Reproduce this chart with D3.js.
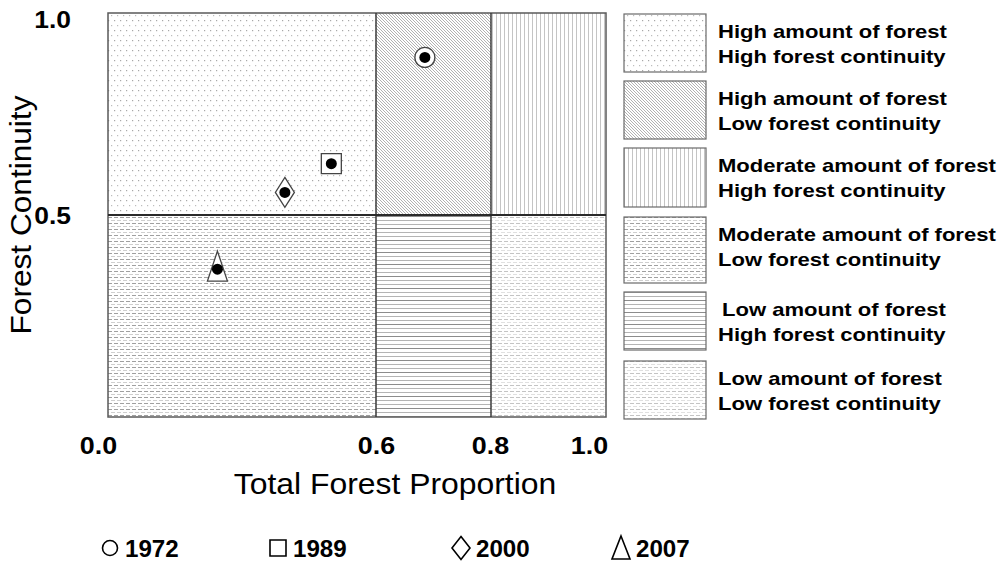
<!DOCTYPE html>
<html>
<head>
<meta charset="utf-8">
<script src="https://cdn.jsdelivr.net/npm/d3@7/dist/d3.min.js"></script>
<style>
  html, body { margin: 0; padding: 0; background: #fff; }
  svg { display: block; font-family: "Liberation Sans", Arial, sans-serif; }
</style>
</head>
<body>
<svg id="chart" width="1004" height="567"></svg>
<script>
// Forest amount / continuity zones and the yearly positions of the landscape
const xBreaks = [0, 0.6, 0.8, 1.0];          // total forest proportion class limits
const yBreaks = [0, 0.5, 1.0];               // forest continuity class limits
const xTickLabels = ["0.0", "0.6", "0.8", "1.0"];
const yTickValues = [1.0, 0.5];
const yTickLabels = ["1.0", "0.5"];

// zones: x class index, y class index (1 = high continuity)
const zoneXIndex = [0, 1, 2, 0, 1, 2];
const zoneYIndex = [1, 1, 1, 0, 0, 0];
const zoneLine1 = ["High amount of forest", "High amount of forest", "Moderate amount of forest",
                   "Moderate amount of forest", "Low amount of forest", "Low amount of forest"];
const zoneLine2 = ["High forest continuity", "Low forest continuity", "High forest continuity",
                   "Low forest continuity", "High forest continuity", "Low forest continuity"];

const years = ["1972", "1989", "2000", "2007"];
const forestProportion = [0.685, 0.50, 0.396, 0.245];
const forestContinuity = [0.89, 0.627, 0.556, 0.366];
const yearSymbols = ["circle", "square", "diamond", "triangle"];

const svg = d3.select("#chart");
const FONT = '"Liberation Sans", Arial, sans-serif';

// plot frame; the x axis is piecewise so each class gets its own width
const x = d3.scaleLinear().domain(xBreaks).range([108, 376, 491, 606]);
const y = d3.scaleLinear().domain([0, 1]).range([417, 13]);

// ---------- fill patterns ----------
const defs = svg.append("defs");
function pat(id, w, h, draw) {
  const p = defs.append("pattern").attr("id", id)
    .attr("patternUnits", "userSpaceOnUse").attr("width", w).attr("height", h);
  p.append("rect").attr("width", w).attr("height", h).attr("fill", "#fff");
  draw(p);
}
// sparse dots
pat("p0", 6, 10, p => {
  p.append("rect").attr("x", 0).attr("y", 0).attr("width", 1.2).attr("height", 1.2).attr("fill", "#a8a8a8");
  p.append("rect").attr("x", 3).attr("y", 5).attr("width", 1.2).attr("height", 1.2).attr("fill", "#bdbdbd");
});
// fine diagonal hatch, built from single pixels
pat("p1", 3, 3, p => {
  [0, 1, 2].forEach(k => p.append("rect").attr("x", k).attr("y", k)
    .attr("width", 1).attr("height", 1).attr("fill", "#b2b2b2"));
});
// vertical lines
pat("p2", 4, 4, p => {
  p.append("rect").attr("x", 0).attr("y", 0).attr("width", 1).attr("height", 4).attr("fill", "#c4c4c4");
});
// dashed horizontal rows
pat("p3", 6, 6, p => {
  p.append("rect").attr("x", 0).attr("y", 1).attr("width", 4).attr("height", 1).attr("fill", "#a0a0a0");
  p.append("rect").attr("x", 3).attr("y", 4).attr("width", 4).attr("height", 1).attr("fill", "#cfcfcf");
  p.append("rect").attr("x", -3).attr("y", 4).attr("width", 4).attr("height", 1).attr("fill", "#cfcfcf");
});
// solid horizontal lines
pat("p4", 6, 12, p => {
  p.append("rect").attr("x", 0).attr("y", 0).attr("width", 6).attr("height", 1).attr("fill", "#8c8c8c");
  p.append("rect").attr("x", 0).attr("y", 4).attr("width", 6).attr("height", 1).attr("fill", "#b4b4b4");
  p.append("rect").attr("x", 0).attr("y", 8).attr("width", 6).attr("height", 1).attr("fill", "#b4b4b4");
});
// light dashed rows
pat("p5", 6, 6, p => {
  p.append("rect").attr("x", 0).attr("y", 1).attr("width", 4).attr("height", 1).attr("fill", "#c4c4c4");
  p.append("rect").attr("x", 3).attr("y", 4).attr("width", 4).attr("height", 1).attr("fill", "#e0e0e0");
  p.append("rect").attr("x", -3).attr("y", 4).attr("width", 4).attr("height", 1).attr("fill", "#e0e0e0");
});

// ---------- zones ----------
svg.append("g").selectAll("rect").data(zoneXIndex).join("rect")
  .attr("x", (d) => x(xBreaks[d]))
  .attr("width", (d) => x(xBreaks[d + 1]) - x(xBreaks[d]))
  .attr("y", (d, i) => y(yBreaks[zoneYIndex[i] + 1]))
  .attr("height", (d, i) => y(yBreaks[zoneYIndex[i]]) - y(yBreaks[zoneYIndex[i] + 1]))
  .attr("fill", (d, i) => `url(#p${i})`);

// frame and class limits
svg.append("rect").attr("x", x(0)).attr("y", y(1)).attr("width", x(1) - x(0)).attr("height", y(0) - y(1))
  .attr("fill", "none").attr("stroke", "#5a5a5a").attr("stroke-width", 1.5);
svg.append("g").selectAll("line").data(xBreaks.slice(1, -1)).join("line")
  .attr("x1", d => x(d)).attr("x2", d => x(d)).attr("y1", y(1)).attr("y2", y(0))
  .attr("stroke", "#3a3a3a").attr("stroke-width", 1.5);
svg.append("line").attr("x1", x(0)).attr("x2", x(1)).attr("y1", y(0.5)).attr("y2", y(0.5))
  .attr("stroke", "#2a2a2a").attr("stroke-width", 1.8);

// ---------- axes ----------
const xAxis = svg.append("g").attr("transform", "translate(0,454)")
  .call(d3.axisBottom(x).tickValues(xBreaks).tickFormat((d, i) => xTickLabels[i]).tickSize(0).tickPadding(0));
xAxis.select(".domain").remove();
const xLabelShift = [-10, 0, -1, -17];
xAxis.selectAll("text")
  .attr("y", 0).attr("dy", 0)
  .attr("fill", "#000").attr("font-family", FONT).attr("font-size", 24).attr("font-weight", "bold")
  .attr("transform", (d, i) => `translate(${xLabelShift[i]},0) scale(1.12,1)`);

const yAxis = svg.append("g").attr("transform", "translate(71,0)")
  .call(d3.axisLeft(y).tickValues(yTickValues).tickFormat((d, i) => yTickLabels[i]).tickSize(0).tickPadding(0));
yAxis.select(".domain").remove();
const yLabelShift = [14, 8];
yAxis.selectAll("text")
  .attr("x", 0).attr("dy", 0)
  .attr("fill", "#000").attr("font-family", FONT).attr("font-size", 24).attr("font-weight", "bold")
  .attr("text-anchor", "end")
  .attr("transform", (d, i) => `translate(0,${yLabelShift[i]}) scale(1.1,1)`);

svg.append("text").attr("transform", "translate(395,494) scale(1.1,1)")
  .attr("text-anchor", "middle").attr("font-size", 29).attr("fill", "#000")
  .text("Total Forest Proportion");
svg.append("text").attr("transform", "translate(31,215) rotate(-90) scale(1.09,1)")
  .attr("text-anchor", "middle").attr("font-size", 29).attr("fill", "#000")
  .text("Forest Continuity");

// ---------- year markers ----------
function symbolPath(type, cx, cy) {
  switch (type) {
    case "square": return `M${cx - 10},${cy - 10}h20v20h-20Z`;
    case "diamond": return `M${cx},${cy - 15}L${cx + 9.5},${cy}L${cx},${cy + 15}L${cx - 9.5},${cy}Z`;
    case "triangle": return `M${cx},${cy - 18}L${cx + 10},${cy + 12}L${cx - 10},${cy + 12}Z`;
    default: return null;
  }
}
const marks = svg.append("g").selectAll("g").data(years).join("g");
marks.each(function (d, i) {
  const g = d3.select(this);
  const cx = x(forestProportion[i]), cy = y(forestContinuity[i]);
  if (yearSymbols[i] === "circle") {
    g.append("circle").attr("cx", cx).attr("cy", cy).attr("r", 10)
      .attr("fill", "#fff").attr("stroke", "#444").attr("stroke-width", 1.3);
  } else {
    g.append("path").attr("d", symbolPath(yearSymbols[i], cx, cy))
      .attr("fill", "#fff").attr("stroke", "#444").attr("stroke-width", 1.3);
  }
  g.append("circle").attr("cx", cx).attr("cy", cy).attr("r", 5.5).attr("fill", "#000");
});

// ---------- zone legend ----------
const legendTop = [14, 81, 148, 217, 292, 361];
const legendHeight = [58, 58, 59, 66, 58, 58];
const lg = svg.append("g");
lg.selectAll("rect").data(zoneLine1).join("rect")
  .attr("x", 624).attr("width", 82)
  .attr("y", (d, i) => legendTop[i]).attr("height", (d, i) => legendHeight[i])
  .attr("fill", (d, i) => `url(#p${i})`).attr("stroke", "#6a6a6a").attr("stroke-width", 1.2);
lg.selectAll("text.l1").data(zoneLine1).join("text").attr("class", "l1")
  .attr("transform", (d, i) => `translate(${i === 4 ? 722 : 718},${legendTop[i] + 24}) scale(1.16,1)`)
  .attr("font-size", 19).attr("font-weight", "bold").attr("fill", "#000").text(d => d);
lg.selectAll("text.l2").data(zoneLine2).join("text").attr("class", "l2")
  .attr("transform", (d, i) => `translate(718,${legendTop[i] + 49}) scale(1.16,1)`)
  .attr("font-size", 19).attr("font-weight", "bold").attr("fill", "#000").text(d => d);

// ---------- year legend ----------
const yearLegendX = [110, 278, 461, 621];
const yl = svg.append("g");
years.forEach((yr, i) => {
  const cx = yearLegendX[i], cy = 548;
  let d;
  if (yearSymbols[i] === "circle") {
    yl.append("circle").attr("cx", cx).attr("cy", cy).attr("r", 7.5)
      .attr("fill", "none").attr("stroke", "#000").attr("stroke-width", 1.6);
  } else {
    if (yearSymbols[i] === "square") d = `M${cx - 8},${cy - 8}h16v16h-16Z`;
    if (yearSymbols[i] === "diamond") d = `M${cx},${cy - 11.5}L${cx + 9},${cy}L${cx},${cy + 11.5}L${cx - 9},${cy}Z`;
    if (yearSymbols[i] === "triangle") d = `M${cx},${cy - 12}L${cx + 9},${cy + 11}L${cx - 9},${cy + 11}Z`;
    yl.append("path").attr("d", d).attr("fill", "none").attr("stroke", "#000").attr("stroke-width", 1.6);
  }
  yl.append("text").attr("transform", `translate(${cx + 15},557) scale(1.05,1)`)
    .attr("font-size", 23).attr("font-weight", "bold").attr("fill", "#000").text(yr);
});
</script>
</body>
</html>
